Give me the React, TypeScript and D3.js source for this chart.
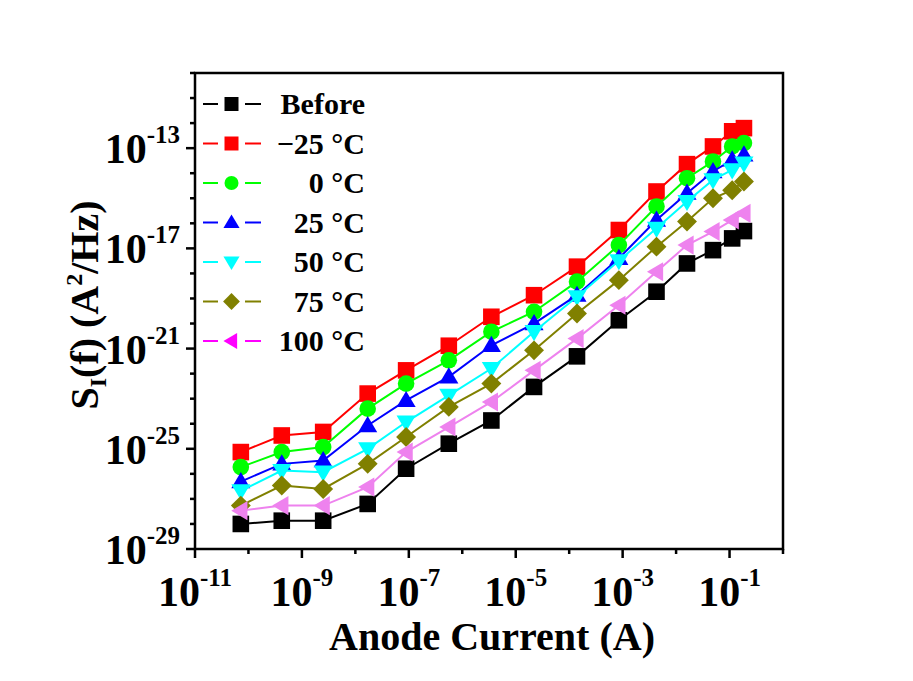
import React, { useEffect, useRef } from "react";
import * as d3 from "d3";

// anode current (A), shared by all series
const currentA = [7.2e-11, 4.2e-10, 2.5e-9, 1.7e-8, 8.9e-8, 5.6e-7, 3.5e-6, 2.2e-5, 1.4e-4, 8.5e-4, 4.3e-3, 1.6e-2, 4.9e-2, 0.112, 0.186];

// S_I(f) in A^2/Hz
const before = [1.0e-28, 1.35e-28, 1.35e-28, 6.3e-28, 1.6e-26, 1.6e-25, 1.35e-24, 2.95e-23, 4.9e-22, 1.35e-20, 1.86e-19, 2.5e-18, 8.5e-18, 2.5e-17, 4.9e-17];
const minus25 = [7.4e-26, 3.4e-25, 4.7e-25, 1.6e-23, 1.35e-22, 1.3e-21, 1.86e-20, 1.35e-19, 1.86e-18, 5.4e-17, 1.86e-15, 2.3e-14, 1.17e-13, 4.7e-13, 6.3e-13];
const zero = [1.86e-26, 7.4e-26, 1.17e-25, 4.0e-24, 4.0e-23, 3.4e-22, 4.7e-21, 2.95e-20, 4.7e-19, 1.35e-17, 4.7e-16, 6.3e-15, 2.95e-14, 1.17e-13, 1.6e-13];
const plus25 = [4.9e-27, 2.5e-26, 3.4e-26, 8.5e-25, 8.5e-24, 7.4e-23, 1.35e-21, 1.0e-20, 1.35e-19, 4.0e-18, 1.35e-16, 1.6e-15, 1.17e-14, 3.4e-14, 5.4e-14];
const plus50 = [2.1e-27, 1.35e-26, 1.17e-26, 1.0e-25, 1.17e-24, 1.35e-23, 1.6e-22, 4.7e-21, 1.17e-19, 3.2e-18, 6.3e-17, 7.4e-16, 5.4e-15, 1.35e-14, 2.5e-14];
const plus75 = [5.4e-28, 3.4e-27, 2.5e-27, 2.5e-26, 2.95e-25, 4.7e-24, 4.0e-23, 8.5e-22, 2.5e-20, 5.4e-19, 1.17e-17, 1.17e-16, 1.0e-15, 2.1e-15, 4.7e-15];
const plus100 = [3.4e-28, 5.4e-28, 5.4e-28, 2.95e-27, 7.4e-26, 7.4e-25, 7.4e-24, 1.35e-22, 2.5e-21, 5.4e-20, 1.17e-18, 1.35e-17, 4.7e-17, 1.35e-16, 2.5e-16];

const seriesNames = ["Before", "\u221225 \u00b0C", "0 \u00b0C", "25 \u00b0C", "50 \u00b0C", "75 \u00b0C", "100 \u00b0C"];
const seriesValues = [before, minus25, zero, plus25, plus50, plus75, plus100];
const legendColors = ["#000000", "#ff0000", "#00ff00", "#0000ff", "#00ffff", "#808000", "#ff00ff"];
const plotColors = ["#000000", "#ff0000", "#00ff00", "#0000ff", "#00ffff", "#808000", "#ee82ee"];
const seriesShapes = ["square", "square", "circle", "triangleUp", "triangleDown", "diamond", "triangleLeft"];

const xMajorTicks = [1e-11, 1e-9, 1e-7, 1e-5, 1e-3, 1e-1];
const yMajorTicks = [1e-29, 1e-25, 1e-21, 1e-17, 1e-13];

const FONT = "'Liberation Serif', 'Times New Roman', serif";

function markerPath(shape: string, r: number) {
  switch (shape) {
    case "square":
      return `M${-r},${-r}H${r}V${r}H${-r}Z`;
    case "circle":
      return `M${-r},0A${r},${r} 0 1,0 ${r},0A${r},${r} 0 1,0 ${-r},0Z`;
    case "triangleUp":
      return `M0,${-r * 1.15}L${r * 1.15},${r * 0.8}L${-r * 1.15},${r * 0.8}Z`;
    case "triangleDown":
      return `M0,${r * 1.15}L${r * 1.15},${-r * 0.8}L${-r * 1.15},${-r * 0.8}Z`;
    case "diamond":
      return `M0,${-r * 1.2}L${r * 1.2},0L0,${r * 1.2}L${-r * 1.2},0Z`;
    case "triangleLeft":
      return `M${-r * 1.15},0L${r * 0.8},${-r * 1.15}L${r * 0.8},${r * 1.15}Z`;
  }
  return "";
}

const App = () => {
  const svgRef = useRef(null);

  useEffect(() => {
    const svg = d3.select(svgRef.current);
    svg.selectAll("*").remove();

    const left = 195, right = 783, top = 73, bottom = 549;

    const x = d3.scaleLog().domain([1e-11, 1]).range([left, right]);
    const y = d3.scaleLog().domain([1e-29, 1e-10]).range([bottom, top]);

    svg.append("rect").attr("width", 913).attr("height", 681).attr("fill", "#fff");

    // data
    const line = d3
      .line<number>()
      .x((d, i) => x(currentA[i]))
      .y((d) => y(d));

    seriesValues.forEach((vals, k) => {
      const g = svg.append("g");
      g.append("path")
        .datum(vals)
        .attr("fill", "none")
        .attr("stroke", plotColors[k])
        .attr("stroke-width", 2)
        .attr("d", line);
      g.selectAll("path.m")
        .data(vals)
        .join("path")
        .attr("class", "m")
        .attr("transform", (d, i) => `translate(${x(currentA[i])},${y(d)})`)
        .attr("d", markerPath(seriesShapes[k], 8.3))
        .attr("fill", plotColors[k]);
    });

    // frame
    svg.append("rect")
      .attr("x", left).attr("y", top)
      .attr("width", right - left).attr("height", bottom - top)
      .attr("fill", "none").attr("stroke", "#000").attr("stroke-width", 2.5);

    // x ticks
    const xDecades = d3.range(-11, 1).map((e) => Math.pow(10, e));
    svg.append("g").selectAll("line")
      .data(xDecades)
      .join("line")
      .attr("x1", (d) => x(d)).attr("x2", (d) => x(d))
      .attr("y1", bottom)
      .attr("y2", (d) => bottom + (xMajorTicks.some((t) => Math.abs(Math.log10(t) - Math.log10(d)) < 0.01) ? 9 : 5))
      .attr("stroke", "#000").attr("stroke-width", 2.5);

    const xl = svg.append("g").selectAll("text")
      .data(xMajorTicks)
      .join("text")
      .attr("x", (d) => x(d))
      .attr("y", 606)
      .attr("text-anchor", "middle")
      .attr("font-family", FONT)
      .attr("font-weight", "bold")
      .attr("font-size", 42);
    xl.append("tspan").text("10");
    xl.append("tspan").attr("dy", -20).attr("font-size", 25).text((d) => `-${Math.round(-Math.log10(d))}`);

    // y ticks
    const yDecades = d3.range(-29, -9).map((e) => Math.pow(10, e));
    svg.append("g").selectAll("line")
      .data(yDecades)
      .join("line")
      .attr("y1", (d) => y(d)).attr("y2", (d) => y(d))
      .attr("x1", left)
      .attr("x2", (d) => left - (yMajorTicks.some((t) => Math.abs(Math.log10(t) - Math.log10(d)) < 0.01) ? 9 : 5))
      .attr("stroke", "#000").attr("stroke-width", 2.5);

    const yl = svg.append("g").selectAll("text")
      .data(yMajorTicks)
      .join("text")
      .attr("x", 180)
      .attr("y", (d) => y(d) + 15)
      .attr("text-anchor", "end")
      .attr("font-family", FONT)
      .attr("font-weight", "bold")
      .attr("font-size", 42);
    yl.append("tspan").text("10");
    yl.append("tspan").attr("dy", -20).attr("font-size", 25).text((d) => `-${Math.round(-Math.log10(d))}`);

    // axis titles
    svg.append("text")
      .attr("x", 492).attr("y", 650)
      .attr("text-anchor", "middle")
      .attr("font-family", FONT).attr("font-weight", "bold").attr("font-size", 40)
      .text("Anode Current (A)");

    const yt = svg.append("text")
      .attr("transform", "translate(98,305) rotate(-90)")
      .attr("text-anchor", "middle")
      .attr("font-family", FONT).attr("font-weight", "bold").attr("font-size", 40);
    yt.append("tspan").text("S");
    yt.append("tspan").attr("font-size", 24).attr("dy", 8).text("I");
    yt.append("tspan").attr("dy", -8).text("(f) (A");
    yt.append("tspan").attr("font-size", 24).attr("dy", -16).text("2");
    yt.append("tspan").attr("dy", 16).text("/Hz)");

    // legend
    const legend = svg.append("g").selectAll("g")
      .data(seriesNames)
      .join("g")
      .attr("transform", (d, i) => `translate(0,${104 + i * 39.5})`);
    legend.append("line").attr("x1", 203).attr("x2", 218)
      .attr("stroke", (d, i) => legendColors[i]).attr("stroke-width", 2);
    legend.append("line").attr("x1", 245).attr("x2", 261)
      .attr("stroke", (d, i) => legendColors[i]).attr("stroke-width", 2);
    legend.append("path")
      .attr("transform", "translate(231.5,0)")
      .attr("d", (d, i) => markerPath(seriesShapes[i], 7))
      .attr("fill", (d, i) => legendColors[i]);
    legend.append("text")
      .attr("x", 365).attr("y", 10)
      .attr("text-anchor", "end")
      .attr("font-family", FONT).attr("font-weight", "bold").attr("font-size", 30)
      .text((d) => d);
  }, []);

  return (
    <div>
      <style>{"body{margin:0}"}</style>
      <svg ref={svgRef} width={913} height={681} style={{ display: "block" }} />
    </div>
  );
};

export default App;
